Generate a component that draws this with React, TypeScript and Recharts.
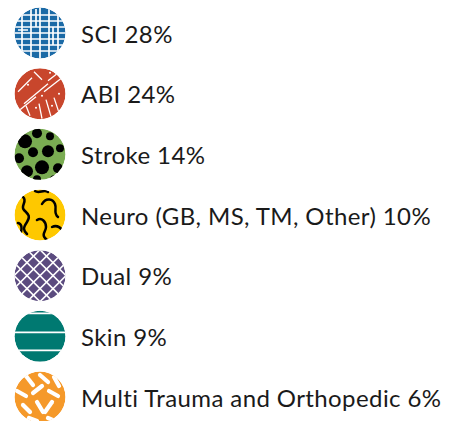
import React from "react";
import { ScatterChart, Scatter, XAxis, YAxis } from "recharts";

const categories = ["SCI", "ABI", "Stroke", "Neuro (GB, MS, TM, Other)", "Dual", "Skin", "Multi Trauma and Orthopedic"];
const shares = [28, 24, 14, 10, 9, 9, 6];
const swatchColors = ["#1b6aa6", "#c8462c", "#7aac52", "#fec800", "#5b4b7f", "#007971", "#f5992a"];

const data = categories.map((name, i) => ({
  name,
  value: shares[i],
  x: 0,
  y: i,
  label: `${name} ${shares[i]}%`,
}));

const R = 25.5;

// decorative texture for each swatch, drawn around (0,0)
const sciLines = () => {
  const v = [-18, -9, 0, 9, 18];
  const h = [-18, -12, -6, 0, 6, 12, 18];
  return (
    <g stroke="#fff" strokeWidth={1.7}>
      {v.map((x) => <line key={"v" + x} x1={x} y1={-30} x2={x} y2={30} />)}
      {h.map((y) => <line key={"h" + y} x1={-30} y1={y} x2={30} y2={y} />)}
      <line x1={-4} y1={-24} x2={-4} y2={-6} />
      <line x1={13} y1={-6} x2={13} y2={12} />
      <line x1={-22} y1={-3} x2={-12} y2={-3} />
    </g>
  );
};

const abiLines = () => {
  const segs = [
    [-22, -2, -8, -16], [-16, 10, 8, -10], [-6, -22, 2, -14], [4, -2, 22, -16],
    [-20, 16, -4, 3], [-10, 22, -14, 12], [6, 6, 11, 23], [14, 4, 19, 19],
    [-1, 10, 2, 25], [8, -13, 17, -20],
  ];
  const dots = [[10, -21], [2, 2], [-4, 14], [19, 0], [12, 12], [-12, -9]];
  return (
    <g stroke="#fff" strokeWidth={1.3} fill="#fff">
      {segs.map((s, k) => <line key={k} x1={s[0]} y1={s[1]} x2={s[2]} y2={s[3]} />)}
      {dots.map((d, k) => <circle key={"d" + k} cx={d[0]} cy={d[1]} r={1} stroke="none" />)}
    </g>
  );
};

const strokeBlobs = () => {
  const blobs = [
    [-15, -13, 7], [-3, -21, 5], [10, -18, 4], [-21, 4, 5], [-7, -2, 5],
    [8, -3, 6], [20, -6, 4], [-13, 17, 6], [2, 13, 7], [18, 14, 5],
    [-3, 25, 4], [14, 25, 4],
  ];
  return (
    <g fill="#000">
      {blobs.map((b, k) => <circle key={k} cx={b[0]} cy={b[1]} r={b[2]} />)}
    </g>
  );
};

const neuroSquiggles = () => {
  const paths = [
    "M-17,-18 c5,4 -3,9 1,13 s7,6 3,12 s-4,8 0,12",
    "M-5,-24 c4,3 9,-2 13,1",
    "M2,-11 c4,-7 11,-5 13,0 s-2,9 3,13",
    "M-3,5 c5,-3 9,2 9,7 s-5,7 -1,11 s5,5 3,9",
    "M12,12 c4,-2 8,0 11,4",
    "M-22,8 c4,1 4,5 3,9",
  ];
  return (
    <g stroke="#000" strokeWidth={2.5} fill="none" strokeLinecap="round">
      {paths.map((d, k) => <path key={k} d={d} />)}
    </g>
  );
};

const dualHatch = () => {
  const offs = [-52, -39, -26, -13, 0, 13, 26, 39, 52];
  return (
    <g stroke="#fff" strokeWidth={1.6}>
      {offs.map((o) => <line key={"a" + o} x1={o - 30} y1={-30} x2={o + 30} y2={30} />)}
      {offs.map((o) => <line key={"b" + o} x1={o + 30} y1={-30} x2={o - 30} y2={30} />)}
    </g>
  );
};

const skinStripes = () => (
  <g stroke="#fff" strokeWidth={1.6}>
    {[-23, -4, 14].map((y) => <line key={y} x1={-30} y1={y} x2={30} y2={y} />)}
  </g>
);

const multiGrains = () => {
  const segs = [
    [-14, -21, -7, -12], [0, -22, 8, -15], [14, -20, 19, -11], [-23, -6, -14, -1],
    [-7, -4, 2, -11], [9, -6, 18, -1], [-17, 8, -10, 15], [-3, 5, 3, 15],
    [12, 5, 5, 15], [-11, 21, -3, 24], [8, 21, 15, 24],
  ];
  return (
    <g stroke="#fff" strokeWidth={4.2} strokeLinecap="round">
      {segs.map((s, k) => <line key={k} x1={s[0]} y1={s[1]} x2={s[2]} y2={s[3]} />)}
    </g>
  );
};

const textures = [sciLines, abiLines, strokeBlobs, neuroSquiggles, dualHatch, skinStripes, multiGrains];

const Swatch = (props: any) => {
  const { cx, cy, payload, index } = props;
  const i = typeof index === "number" ? index : categories.indexOf(payload.name);
  const id = `clip-${i}`;
  return (
    <g>
      <defs>
        <clipPath id={id}>
          <circle cx={0} cy={0} r={R} />
        </clipPath>
      </defs>
      <g transform={`translate(${cx},${cy})`}>
        <g clipPath={`url(#${id})`}>
          <circle cx={0} cy={0} r={R} fill={swatchColors[i]} />
          {textures[i]()}
        </g>
      </g>
      <text
        x={cx + 41}
        y={cy}
        dominantBaseline="central"
        fontFamily="Lato, 'Open Sans', sans-serif"
        fontSize={24}
        letterSpacing={0.4}
        fill="#1a1a1a"
      >
        {payload.label}
      </text>
    </g>
  );
};

export default function App() {
  return (
    <div style={{ position: "absolute", left: 0, top: 0 }}>
      <ScatterChart width={452} height={421} margin={{ top: 33, right: 0, bottom: 24, left: 40 }}>
        <XAxis type="number" dataKey="x" domain={[0, 1]} hide />
        <YAxis type="number" dataKey="y" domain={[0, 6]} reversed hide />
        <Scatter data={data} shape={<Swatch />} isAnimationActive={false} />
      </ScatterChart>
    </div>
  );
}
